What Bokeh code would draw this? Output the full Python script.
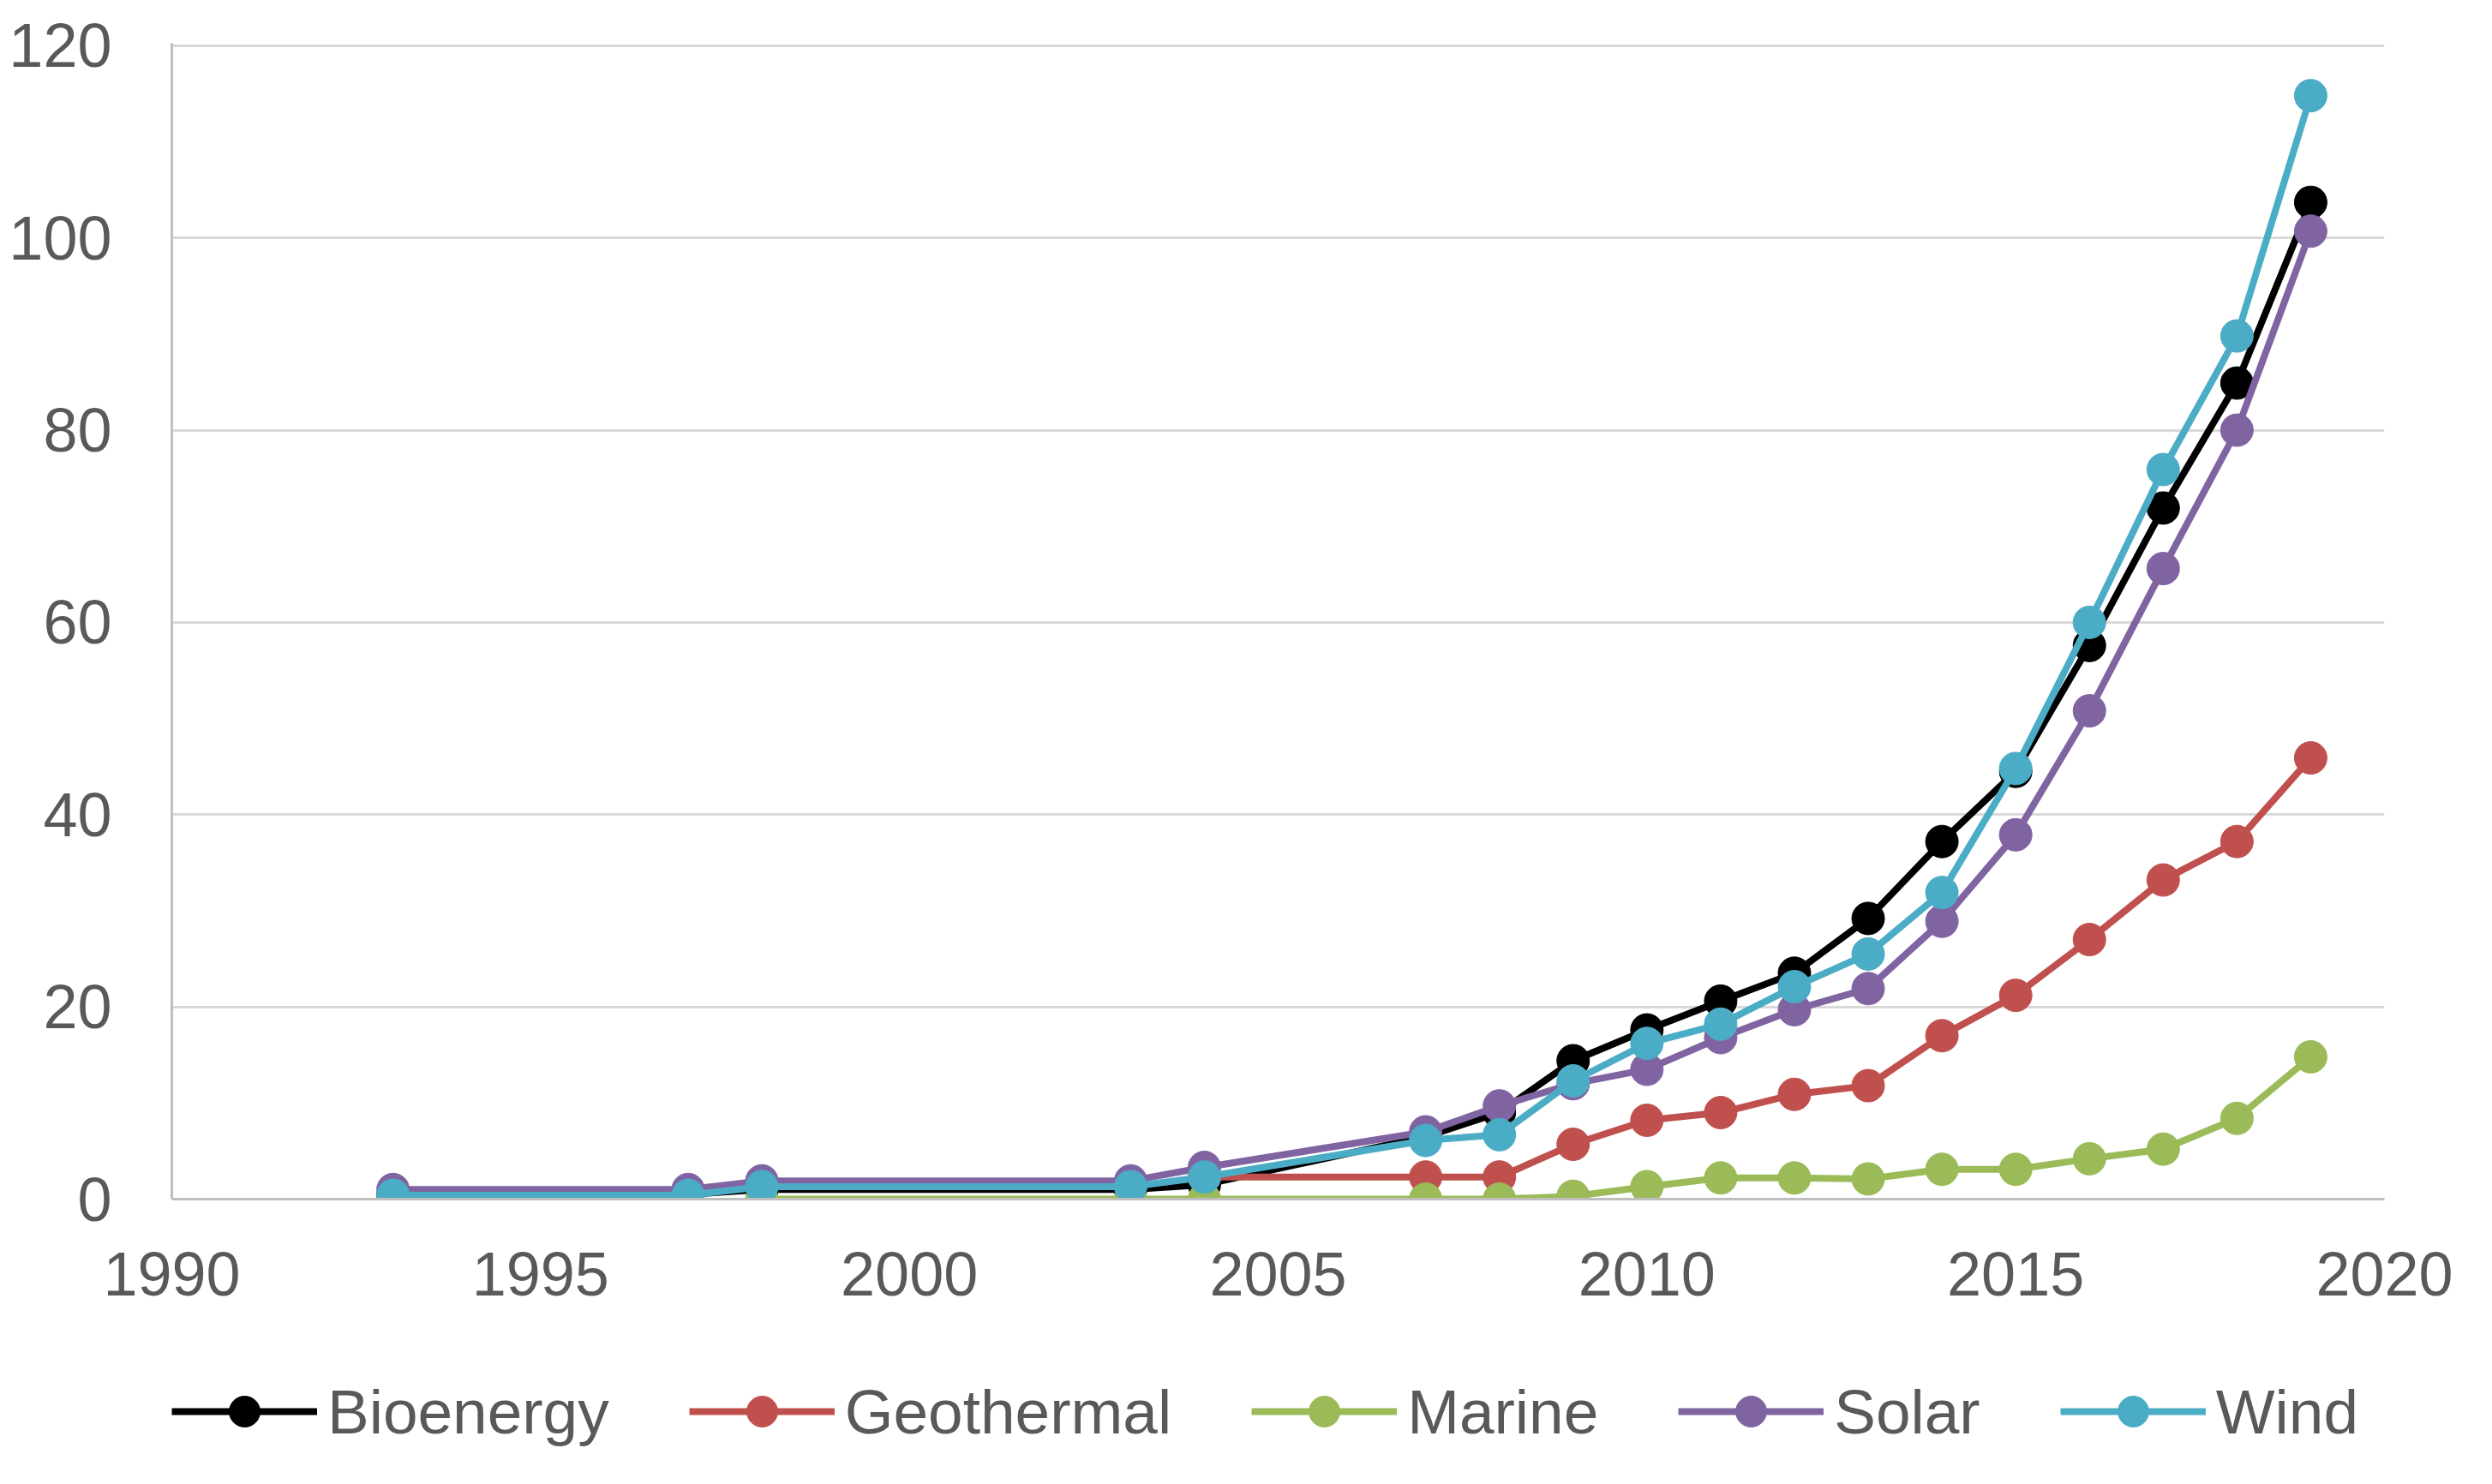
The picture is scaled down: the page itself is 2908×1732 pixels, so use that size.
from bokeh.plotting import figure
from bokeh.layouts import column
from bokeh.models import Range1d, FixedTicker, Legend, LegendItem
from bokeh.embed import file_html
from bokeh.resources import INLINE

# ---- data ----
years_main = [1993, 1997, 1998, 2003, 2004, 2007, 2008, 2009, 2010, 2011,
              2012, 2013, 2014, 2015, 2016, 2017, 2018, 2019]
bioenergy = [0.5, 0.5, 1, 1, 1.5, 6.5, 9, 14.4, 17.6, 20.6,
             23.5, 29.2, 37.2, 44.5, 57.6, 71.9, 84.9, 103.7]
solar = [1, 1, 1.9, 1.9, 3.3, 7, 9.7, 12, 13.5, 16.8,
         19.7, 21.9, 28.9, 37.9, 50.8, 65.6, 80, 100.7]
wind = [0.4, 0.4, 1.3, 1.3, 2.3, 6.1, 6.7, 12.3, 16.2, 18.2,
        22.1, 25.5, 31.9, 44.8, 60, 75.9, 89.8, 114.8]

years_geo = [2004, 2007, 2008, 2009, 2010, 2011, 2012, 2013, 2014, 2015,
             2016, 2017, 2018, 2019]
geothermal = [2.3, 2.3, 2.3, 5.7, 8.2, 9.0, 10.9, 11.8, 17, 21.2,
              27, 33.2, 37.2, 45.9]

years_marine = [1998, 2003, 2004, 2007, 2008, 2009, 2010, 2011, 2012, 2013,
                2014, 2015, 2016, 2017, 2018, 2019]
marine = [0, 0, 0, 0, 0, 0.3, 1.3, 2.2, 2.2, 2.1,
          3.1, 3.1, 4.2, 5.2, 8.4, 14.8]

series_names = ["Bioenergy", "Geothermal", "Marine", "Solar", "Wind"]
series_x = [years_main, years_geo, years_marine, years_main, years_main]
series_y = [bioenergy, geothermal, marine, solar, wind]
series_colors = ["#000000", "#C0504D", "#9BBB59", "#8064A2", "#4BACC6"]

x_ticks = [1990, 1995, 2000, 2005, 2010, 2015, 2020]
y_ticks = [0, 20, 40, 60, 80, 100, 120]

FONT = "Liberation Sans"
TXT = "#595959"
W = 2892
H_MAIN = 1580
H_LEG = 136

p = figure(width=W, height=H_MAIN,
           x_range=Range1d(1990, 2020), y_range=Range1d(0, 120.25),
           output_backend="svg", toolbar_location=None,
           min_border_left=200, min_border_right=110,
           min_border_top=50, min_border_bottom=H_MAIN - 1399)
p.outline_line_color = None
p.background_fill_color = "white"
p.border_fill_color = "white"

p.xgrid.grid_line_color = None
p.ygrid.grid_line_color = "#D9D9D9"
p.ygrid.grid_line_width = 3

p.xaxis.ticker = FixedTicker(ticks=x_ticks)
p.yaxis.ticker = FixedTicker(ticks=y_ticks)
for ax in (p.xaxis[0], p.yaxis[0]):
    ax.axis_line_color = "#BFBFBF"
    ax.axis_line_width = 3
    ax.major_tick_line_color = None
    ax.minor_tick_line_color = None
    ax.major_tick_out = 0
    ax.major_tick_in = 0
    ax.minor_tick_out = 0
    ax.minor_tick_in = 0
    ax.major_label_text_font = FONT
    ax.major_label_text_font_size = "72px"
    ax.major_label_text_color = TXT
p.yaxis.major_label_standoff = 70
p.xaxis.major_label_standoff = 62

for xs, ys, col in zip(series_x, series_y, series_colors):
    p.line(xs, ys, line_color=col, line_width=8)
    p.scatter(xs, ys, marker="circle", size=38, fill_color=col, line_color=col)

# ---- legend strip below the chart ----
q = figure(width=W, height=H_LEG, x_range=Range1d(0, 1), y_range=Range1d(0, 1),
           x_axis_type=None, y_axis_type=None,
           output_backend="svg", toolbar_location=None,
           min_border_left=0, min_border_right=0, min_border_top=0, min_border_bottom=0)
q.grid.visible = False
q.outline_line_color = None
q.background_fill_color = "white"
q.border_fill_color = "white"

items = []
for name, col in zip(series_names, series_colors):
    # placeholder glyphs outside the visible range, only used to draw the legend keys
    l = q.line([-5, -4], [-5, -5], line_color=col, line_width=8)
    s = q.scatter([-5], [-5], marker="circle", size=38, fill_color=col, line_color=col)
    items.append(LegendItem(label=name, renderers=[l, s]))

legend = Legend(items=items, orientation="horizontal", location=(0, 24),
                glyph_width=170, glyph_height=90, label_height=90,
                label_standoff=12, spacing=93, padding=0, margin=0,
                border_line_color=None, background_fill_alpha=0,
                label_text_font=FONT, label_text_font_size="73px",
                label_text_color=TXT)
q.add_layout(legend, "center")

layout = column(p, q, spacing=0)
open("out.html", "w").write(file_html(layout, INLINE))
